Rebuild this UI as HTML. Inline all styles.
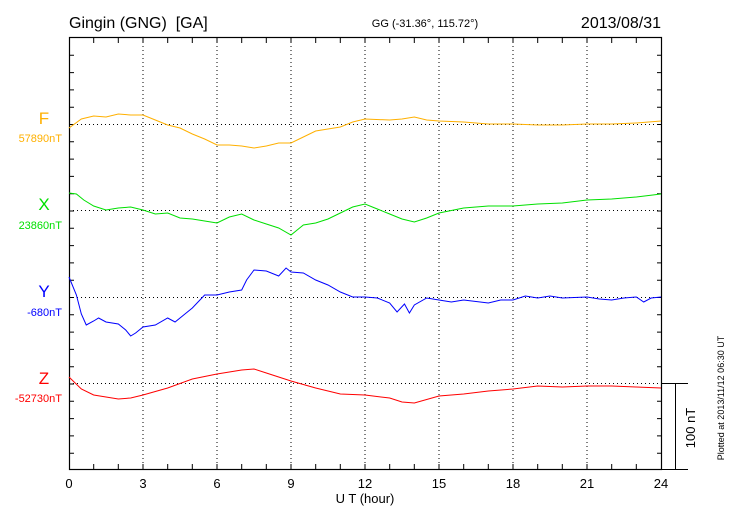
<!DOCTYPE html>
<html><head><meta charset="utf-8"><style>
html,body{margin:0;padding:0;background:#fff;}
svg{display:block;font-family:"Liberation Sans",sans-serif;}
</style></head><body>
<svg width="730" height="520" viewBox="0 0 730 520" xmlns="http://www.w3.org/2000/svg">
<rect width="730" height="520" fill="#fff"/>
<text x="69" y="28" font-size="16">Gingin (GNG)&#160; [GA]</text>
<text x="425" y="27" font-size="11" text-anchor="middle">GG (-31.36°, 115.72°)</text>
<text x="661" y="28" font-size="16" text-anchor="end">2013/08/31</text>
<g stroke="#000" stroke-width="1" stroke-dasharray="1,3" fill="none">
<line x1="143" y1="38" x2="143" y2="469"/><line x1="217" y1="38" x2="217" y2="469"/><line x1="291" y1="38" x2="291" y2="469"/>
<line x1="365" y1="38" x2="365" y2="469"/><line x1="439" y1="38" x2="439" y2="469"/><line x1="513" y1="38" x2="513" y2="469"/><line x1="587" y1="38" x2="587" y2="469"/>
<line x1="69" y1="124.5" x2="662" y2="124.5"/><line x1="69" y1="210.5" x2="662" y2="210.5"/><line x1="69" y1="297.5" x2="662" y2="297.5"/><line x1="69" y1="383.5" x2="662" y2="383.5"/>
</g>
<rect x="69.5" y="37.5" width="592" height="432" fill="none" stroke="#000" stroke-width="1.2"/>
<line x1="662" y1="383.5" x2="688" y2="383.5" stroke="#000"/>
<line x1="662" y1="469.5" x2="688" y2="469.5" stroke="#000"/>
<line x1="675.5" y1="383.5" x2="675.5" y2="469.5" stroke="#000"/>
<g stroke="#000" stroke-width="1">
<path d="M69 55.3h5M69 72.6h5M69 89.9h5M69 107.2h5M69 124.5h5M69 141.8h5M69 159.1h5M69 176.4h5M69 193.7h5M69 211h5M69 228.3h5M69 245.6h5M69 262.9h5M69 280.2h5M69 297.5h5M69 314.8h5M69 332.1h5M69 349.4h5M69 366.7h5M69 384h5M69 401.3h5M69 418.6h5M69 435.9h5M69 453.2h5"/>
<path d="M662 55.3h-5M662 72.6h-5M662 89.9h-5M662 107.2h-5M662 124.5h-5M662 141.8h-5M662 159.1h-5M662 176.4h-5M662 193.7h-5M662 211h-5M662 228.3h-5M662 245.6h-5M662 262.9h-5M662 280.2h-5M662 297.5h-5M662 314.8h-5M662 332.1h-5M662 349.4h-5M662 366.7h-5M662 401.3h-5M662 418.6h-5M662 435.9h-5M662 453.2h-5"/>
<path d="M93.7 469v-5M118.3 469v-5M143 469v-5M167.7 469v-5M192.3 469v-5M217 469v-5M241.7 469v-5M266.3 469v-5M291 469v-5M315.7 469v-5M340.3 469v-5M365 469v-5M389.7 469v-5M414.3 469v-5M439 469v-5M463.7 469v-5M488.3 469v-5M513 469v-5M537.7 469v-5M562.3 469v-5M587 469v-5M611.7 469v-5M636.3 469v-5"/>
<path d="M93.7 38v5M118.3 38v5M143 38v5M167.7 38v5M192.3 38v5M217 38v5M241.7 38v5M266.3 38v5M291 38v5M315.7 38v5M340.3 38v5M365 38v5M389.7 38v5M414.3 38v5M439 38v5M463.7 38v5M488.3 38v5M513 38v5M537.7 38v5M562.3 38v5M587 38v5M611.7 38v5M636.3 38v5"/>
</g>
<g font-size="13" text-anchor="middle">
<text x="69" y="488">0</text><text x="143" y="488">3</text><text x="217" y="488">6</text><text x="291" y="488">9</text><text x="365" y="488">12</text><text x="439" y="488">15</text><text x="513" y="488">18</text><text x="587" y="488">21</text><text x="661" y="488">24</text>
<text x="365" y="503">U T (hour)</text>
</g>
<text transform="translate(695,428) rotate(-90)" font-size="13" text-anchor="middle">100 nT</text>
<text transform="translate(724,398) rotate(-90)" font-size="9" text-anchor="middle">Plotted at 2013/11/12 06:30 UT</text>
<g font-size="17" text-anchor="middle">
<text x="44" y="124" fill="#ffb000">F</text>
<text x="44" y="210" fill="#00e000">X</text>
<text x="44" y="297" fill="#0000ff">Y</text>
<text x="44" y="384" fill="#ff0000">Z</text>
</g>
<g font-size="11" text-anchor="end">
<text x="62" y="142" fill="#ffb000">57890nT</text>
<text x="62" y="229" fill="#00e000">23860nT</text>
<text x="62" y="316" fill="#0000ff">-680nT</text>
<text x="62" y="402" fill="#ff0000">-52730nT</text>
</g>
<g transform="translate(69,0) scale(24.667,1)" fill="none" stroke-width="1" >
<polyline vector-effect="non-scaling-stroke" stroke="#ffb000" points="0,128 0.5,119 1,116 1.5,117 2,114 2.5,115 3,115 3.5,120 4,125 4.5,128 5,134 5.5,139 6,145 6.5,145 7,146 7.5,148 8,146 8.5,143 9,143 9.5,137 10,131 11,127 11.5,122 12,119 13,120 13.5,119 14,117 14.5,120 15,121 16,122 17,124 18,124 19,125 20,125 21,124 22,124 23,123 24,121"/>
<polyline vector-effect="non-scaling-stroke" stroke="#00e000" points="0,193 0.3,194 0.6,200 1,206 1.5,210 2,208 2.5,207 3,210 3.5,214 4,213 4.5,218 5,219 5.5,221 6,223 6.5,217 7,214 7.5,220 8,224 8.5,228 9,235 9.5,225 10,223 10.5,219 11,213 11.5,207 12,204 12.5,209 13,214 13.5,219 14,222 14.5,218 15,213 16,208 17,206 18,206 19,204 20,203 21,200 22,199 23,197 24,194"/>
<polyline vector-effect="non-scaling-stroke" stroke="#0000ff" points="0,277 0.3,295 0.5,314 0.7,325 1,321 1.2,318 1.5,322 2,324 2.3,330 2.5,336 2.7,333 3,327 3.5,325 4,318 4.3,322 4.7,314 5,308 5.5,295 6,295 6.5,292 7,290 7.2,280 7.5,270 8,271 8.5,276 8.8,268 9,272 9.5,273 10,280 10.5,285 11,292 11.5,297 12,297 12.5,298 13,303 13.3,312 13.6,304 13.8,313 14,305 14.5,298 15,300 15.5,302 16,300 17,303 17.5,300 18,300 18.5,296 19,298 19.5,296 20,298 21,297 21.5,299 22,300 22.5,298 23,297 23.3,302 23.6,298 24,297"/>
<polyline vector-effect="non-scaling-stroke" stroke="#ff0000" points="0,377 0.5,389 1,395 2,399 2.5,398 3,395 4,388 5,379 6,374 7,370 7.5,369 8,373 9,381 10,388 11,394 12,395 13,398 13.5,402 14,403 15,396 16,394 17,391 18,389 19,386 20,387 21,386 22,386 23,387 24,388"/>
</g>
</svg>
</body></html>
